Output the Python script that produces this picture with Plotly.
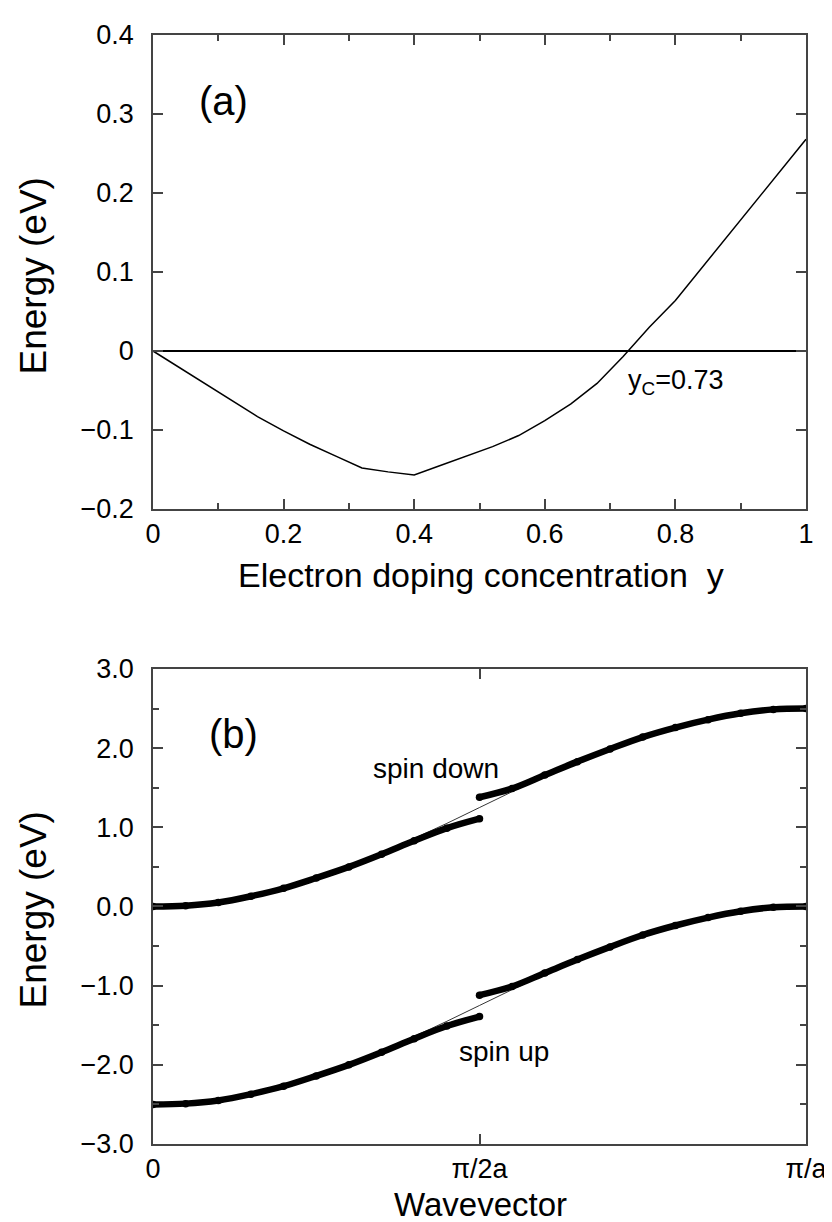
import plotly.graph_objects as go
from plotly.subplots import make_subplots

# ---- panel (a) data ----
doping_y = [0, 0.04, 0.08, 0.12, 0.16, 0.20, 0.24, 0.28, 0.32, 0.36, 0.40, 0.44, 0.48,
            0.52, 0.56, 0.60, 0.64, 0.68, 0.72, 0.76, 0.80, 0.84, 0.88, 0.92, 0.96, 1.00]
energy_a = [0, -0.021, -0.042, -0.063, -0.083, -0.101, -0.118, -0.133, -0.148, -0.153,
            -0.157, -0.145, -0.133, -0.121, -0.107, -0.088, -0.067, -0.041, -0.007, 0.030,
            0.064, 0.105, 0.146, 0.186, 0.227, 0.268]

# ---- panel (b) data (wavevector in units of pi/a) ----
k_left = [0, 0.05, 0.10, 0.15, 0.20, 0.25, 0.30, 0.35, 0.40, 0.45, 0.50]
k_right = [0.50, 0.55, 0.60, 0.65, 0.70, 0.75, 0.80, 0.85, 0.90, 0.95, 1.00]
k_full = k_left + k_right[1:]

down_left = [0.00, 0.01, 0.05, 0.13, 0.23, 0.36, 0.50, 0.66, 0.83, 0.99, 1.11]
down_right = [1.38, 1.49, 1.66, 1.83, 1.99, 2.14, 2.26, 2.36, 2.44, 2.49, 2.50]
up_left = [-2.50, -2.49, -2.45, -2.37, -2.27, -2.14, -2.00, -1.84, -1.67, -1.51, -1.39]
up_right = [-1.12, -1.01, -0.84, -0.67, -0.51, -0.36, -0.24, -0.14, -0.06, -0.01, 0.00]
down_bare = [0.00, 0.01, 0.06, 0.14, 0.24, 0.37, 0.52, 0.68, 0.86, 1.05, 1.25,
             1.45, 1.64, 1.82, 1.99, 2.13, 2.26, 2.36, 2.44, 2.49, 2.50]
up_bare = [-2.50, -2.49, -2.44, -2.36, -2.26, -2.13, -1.98, -1.82, -1.64, -1.45, -1.25,
           -1.05, -0.86, -0.68, -0.52, -0.37, -0.24, -0.14, -0.06, -0.01, 0.00]

k_tickvals = [0, 0.5, 1.0]
k_ticktext = ["0", "\u03c0/2a", "\u03c0/a"]

FONT = "Liberation Sans, Arial, Helvetica, sans-serif"
W, H = 832, 1222
L, R, T, B = 145, 20, 13, 86
PW, PH = W - L - R, H - T - B

def px(x):
    return (x - L) / PW

def py(y):
    return (H - B - y) / PH

top_dom = [py(493), 1.0]
bot_dom = [0.0, py(655)]

fig = make_subplots(rows=2, cols=1)

fig.add_trace(go.Scatter(x=doping_y, y=energy_a, mode="lines",
                         line=dict(color="black", width=1.5), showlegend=False),
              row=1, col=1)

for ys in (down_bare, up_bare):
    fig.add_trace(go.Scatter(x=k_full, y=ys, mode="lines", line_shape="spline",
                             line=dict(color="black", width=0.8), showlegend=False),
                  row=2, col=1)
for xs, ys in ((k_left, down_left), (k_right, down_right), (k_left, up_left), (k_right, up_right)):
    fig.add_trace(go.Scatter(x=xs, y=ys, mode="lines+markers", line_shape="spline",
                             line=dict(color="black", width=6.5),
                             marker=dict(color="black", size=7.5), showlegend=False),
                  row=2, col=1)

axis_common = dict(showline=True, linecolor="#444", linewidth=1.5, mirror="ticks",
                   ticks="inside", ticklen=10, tickcolor="#444", tickwidth=1.5,
                   showgrid=False, tickfont=dict(family=FONT, size=27, color="black"),
                   ticklabeloverflow="allow")

fig.update_xaxes(**axis_common, ticklabelstandoff=0)
fig.update_yaxes(**axis_common, ticklabelstandoff=12)

fig.update_xaxes(range=[0, 1], dtick=0.2, tick0=0, domain=[0, 1],
                 minor=dict(ticks="inside", ticklen=6, dtick=0.1, tickcolor="#444", tickwidth=1.5),
                 zeroline=False, row=1, col=1)
fig.update_yaxes(range=[-0.2, 0.4], dtick=0.1, tick0=0, domain=top_dom,
                 zeroline=True, zerolinecolor="black", zerolinewidth=1.5, row=1, col=1)
fig.update_xaxes(range=[0, 1], tickvals=k_tickvals, ticktext=k_ticktext, domain=[0, 1],
                 zeroline=False, row=2, col=1)
fig.update_yaxes(range=[-3, 3], dtick=1, tick0=0, tickformat=".1f", domain=bot_dom,
                 minor=dict(ticks="inside", ticklen=6, dtick=0.5, tickcolor="#444", tickwidth=1.5),
                 zeroline=False, row=2, col=1)

ann = []
def add_text(text, x, y, size, xanchor="center", yanchor="middle", angle=0):
    ann.append(dict(text=text, x=px(x), y=py(y), xref="paper", yref="paper",
                    xanchor=xanchor, yanchor=yanchor, textangle=angle, showarrow=False,
                    font=dict(family=FONT, size=size, color="black")))

add_text("Energy (eV)", 23, 257, 37, angle=-90)
add_text("Energy (eV)", 23, 899, 37, angle=-90)
add_text("Electron doping concentration \u00a0y", 480, 560, 34)
add_text("Wavevector", 480, 1197, 33)
add_text("(a)", 217, 80, 40)
add_text("(b)", 227, 721, 40)
add_text("y<sub>C</sub>=0.73", 628, 364, 27, xanchor="left")
add_text("spin down", 368, 756, 28, xanchor="left")
add_text("spin up", 456, 1042, 28, xanchor="left")

fig.update_layout(width=W, height=H, margin=dict(l=L, r=R, t=T, b=B),
                  paper_bgcolor="white", plot_bgcolor="white",
                  font=dict(family=FONT, color="black"), annotations=ann)

fig.write_html("out.html")
